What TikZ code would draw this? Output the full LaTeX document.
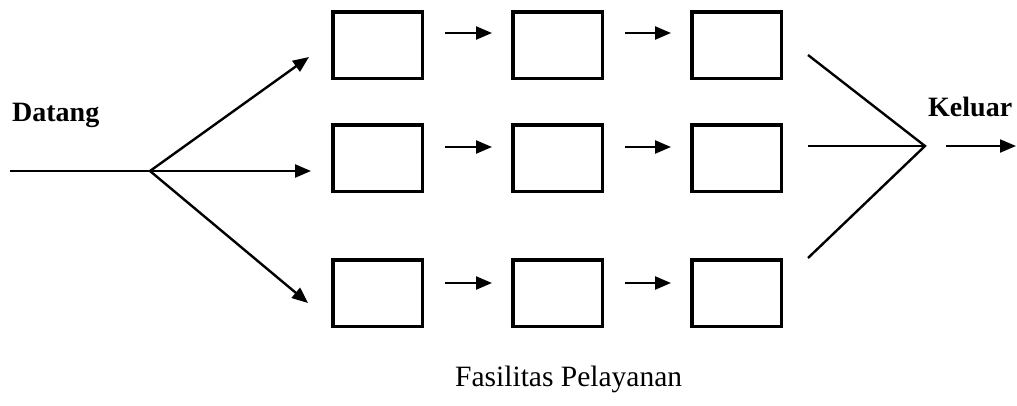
\documentclass[tikz,border=0pt]{standalone}
\usepackage{fontspec}
\setmainfont{Liberation Serif}
\usetikzlibrary{arrows.meta, positioning}

\begin{document}
\begin{tikzpicture}[
			x=1pt, y=-1pt,
			box/.style={
				draw=black,
				line width=3.5pt,
				rectangle,
				minimum width=89.5pt,
				minimum height=66.5pt,
				inner sep=0pt
			},
			arrow/.style={-{Triangle[length=16pt, width=13pt]}, line width=2.4pt},
			step arrow/.style={arrow, shorten <=21pt, shorten >=19pt}, % between two boxes
			plain/.style={line width=2.4pt},
			label/.style={inner sep=0pt, anchor=base west}
			]
			\useasboundingbox (0,0) rectangle (1017,405);
			
			% -------- Row 1 --------
			\node[box] (b11) at (377.5,45) {};
			\node[box, right=87pt of b11] (b12) {};
			\node[box, right=86pt of b12] (b13) {};
			
			% -------- Row 2 --------
			\node[box] (b21) at (377.5,158) {};
			\node[box, right=87pt of b21] (b22) {};
			\node[box, right=86pt of b22] (b23) {};
			
			% -------- Row 3 --------
			\node[box] (b31) at (377.5,293) {};
			\node[box, right=87pt of b31] (b32) {};
			\node[box, right=86pt of b32] (b33) {};
			
			\draw[step arrow] ([yshift=12pt]b11.east) -- ([yshift=12pt]b12.west);
			\draw[step arrow] ([yshift=12pt]b12.east) -- ([yshift=12pt]b13.west);
			\draw[step arrow] ([yshift=11pt]b21.east) -- ([yshift=11pt]b22.west);
			\draw[step arrow] ([yshift=11pt]b22.east) -- ([yshift=11pt]b23.west);
			\draw[step arrow] ([yshift=10pt]b31.east) -- ([yshift=10pt]b32.west);
			\draw[step arrow] ([yshift=10pt]b32.east) -- ([yshift=10pt]b33.west);
			
			% -------- Arrivals --------
			\coordinate (in) at (10,171);
			\coordinate (split) at (150,171);
			\coordinate (t1) at (309,57);
			\coordinate (t2) at (311,171);
			\coordinate (t3) at (308,303);
			
			\draw[line width=2pt] (in) -- (split);
			\draw[arrow] (split) -- (t1);
			\draw[arrow] (split) -- (t2);
			\draw[arrow] (split) -- (t3);
			
			% -------- Departures --------
			\coordinate (s1) at (808,55);
			\coordinate (s2) at (808,146);
			\coordinate (s3) at (808,258);
			\coordinate (merge) at (925,146);
			\coordinate (o1) at (946,146);
			\coordinate (o2) at (1016,146);
			
			\draw[plain] (s1) -- (merge) -- (s3);
			\draw[plain] (s2) -- (merge);
			\draw[arrow, line width=2pt] (o1) -- (o2);
			
			% -------- Titles --------
			\node[label] (datang) at (12,121) {\fontsize{28}{30}\selectfont\bfseries Datang};
			\node[label] (keluar) at (928,116) {\fontsize{28}{30}\selectfont\bfseries Keluar};
			\node[label] (fasilitas) at (455,386) {\fontsize{29.5}{32}\selectfont Fasilitas Pelayanan};
			
	\end{tikzpicture}
\end{document}
